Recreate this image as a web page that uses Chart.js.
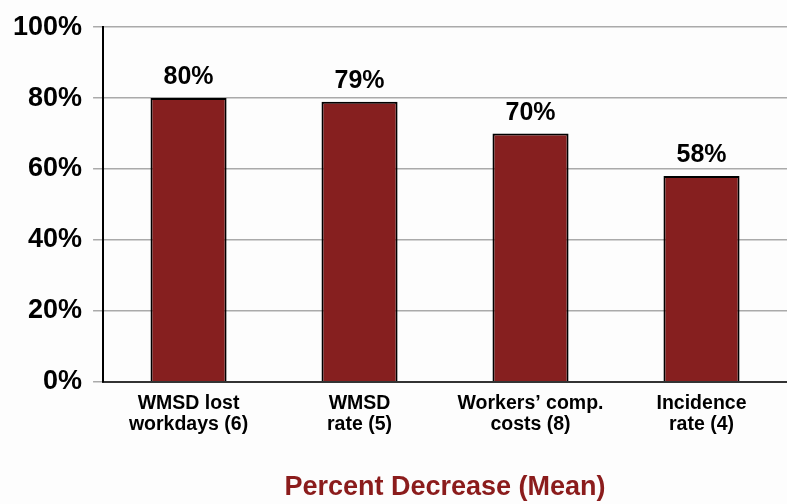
<!DOCTYPE html>
<html>
<head>
<meta charset="utf-8">
<script src="https://cdn.jsdelivr.net/npm/chart.js@4"></script>
<style>
  html, body { margin: 0; padding: 0; background: #fdfdfd; }
  #wrap { width: 787px; height: 504px; }
</style>
</head>
<body>
<div id="wrap"><canvas id="myChart"></canvas></div>
<script>
var categories = [
    ['WMSD lost', 'workdays (6)'],
    ['WMSD', 'rate (5)'],
    ['Workers\u2019 comp.', 'costs (8)'],
    ['Incidence', 'rate (4)']
];
var meanDecrease = [80, 79, 70, 58];
var yTicks = [0, 20, 40, 60, 80, 100];

var fontFamily = '"Liberation Sans", Arial, Helvetica, sans-serif';

// draws the value above each bar
var barLabels = {
    id: 'barLabels',
    afterDatasetsDraw: function (chart) {
        var ctx = chart.ctx;
        var meta = chart.getDatasetMeta(0);
        ctx.save();
        ctx.font = 'bold 25px ' + fontFamily;
        ctx.fillStyle = '#000';
        ctx.textAlign = 'center';
        ctx.textBaseline = 'alphabetic';
        meta.data.forEach(function (bar, i) {
            ctx.fillText(meanDecrease[i] + '%', bar.x, bar.y - 14);
        });
        ctx.restore();
    }
};

var canvas = document.getElementById('myChart');
new Chart(canvas, {
    type: 'bar',
    data: {
        labels: categories,
        datasets: [{
            data: meanDecrease,
            backgroundColor: '#861f1f',
            borderColor: '#000',
            borderWidth: 2,
            borderSkipped: 'bottom',
            categoryPercentage: 1,
            barPercentage: 0.445
        }]
    },
    options: {
        responsive: true,
        maintainAspectRatio: false,
        animation: false,
        layout: { padding: { left: 2, right: 0, top: 11, bottom: 0 } },
        plugins: {
            legend: { display: false },
            tooltip: { enabled: false }
        },
        scales: {
            x: {
                grid: { display: false, drawTicks: false },
                border: { color: '#333', width: 2 },
                ticks: {
                    color: '#000',
                    padding: 12,
                    maxRotation: 0,
                    font: { family: fontFamily, size: 19.5, weight: 'bold', lineHeight: 1.05 }
                },
                title: {
                    display: true,
                    text: 'Percent Decrease (Mean)',
                    color: '#8b1c1c',
                    padding: { top: 25, bottom: 0 },
                    font: { family: fontFamily, size: 27, weight: 'bold', lineHeight: 1.2 }
                }
            },
            y: {
                min: 0,
                max: 100,
                afterBuildTicks: function (axis) {
                    axis.ticks = yTicks.map(function (v) { return { value: v }; });
                },
                grid: { color: '#aaa', lineWidth: 1.5, tickLength: 10 },
                border: { color: '#000', width: 2 },
                ticks: {
                    color: '#000',
                    padding: 11,
                    font: { family: fontFamily, size: 27, weight: 'bold' },
                    callback: function (v) { return v + '%'; }
                }
            }
        }
    },
    plugins: [barLabels]
});
</script>
</body>
</html>
